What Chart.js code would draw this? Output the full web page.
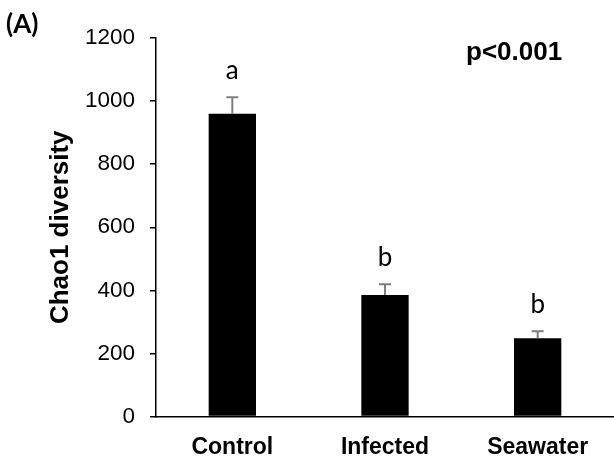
<!DOCTYPE html>
<html>
<head>
<meta charset="utf-8">
<script src="https://cdn.jsdelivr.net/npm/chart.js@4.4.1/dist/chart.umd.min.js"></script>
<style>
  html, body { margin: 0; padding: 0; background: #fff; overflow: hidden; }
  #wrap { width: 614px; height: 464px; position: relative; }
</style>
</head>
<body>
<div id="wrap"><canvas id="chart"></canvas></div>
<script>
// dados do gráfico
const categories = ["Control", "Infected", "Seawater"];
const chao1Values = [960, 385, 248];
const chao1Errors = [52, 34, 22];
const groupLetters = ["a", "b", "b"];
const yTicks = [0, 200, 400, 600, 800, 1000, 1200];
const panelLabel = "(A)";
const pLabel = "p<0.001";

// barras de erro (só para cima) + letras + textos
const extrasPlugin = {
  id: "extras",
  afterDatasetsDraw(chart) {
    const { ctx, scales } = chart;
    const x = scales.x;
    const y = scales.y;
    ctx.save();
    categories.forEach((cat, i) => {
      const cx = x.getPixelForValue(i);
      const yTop = y.getPixelForValue(chao1Values[i]);
      const yErr = y.getPixelForValue(chao1Values[i] + chao1Errors[i]);
      ctx.strokeStyle = "#7f7f7f";
      ctx.lineWidth = 2;
      ctx.beginPath();
      ctx.moveTo(cx, yTop);
      ctx.lineTo(cx, yErr);
      ctx.moveTo(cx - 6, yErr);
      ctx.lineTo(cx + 6, yErr);
      ctx.stroke();

      // letra de significância
      ctx.fillStyle = "#000";
      ctx.font = "26px Lato";
      ctx.textAlign = "center";
      ctx.textBaseline = "alphabetic";
      ctx.fillText(groupLetters[i], cx, yErr - 18);
    });

    ctx.fillStyle = "#000";
    ctx.textAlign = "left";
    ctx.textBaseline = "alphabetic";
    ctx.font = "bold 26px 'Liberation Sans', Arial";
    ctx.fillText(pLabel, 466, 60);
    ctx.font = "bold 26px Lato";
    ctx.fillText(panelLabel, 6, 33);
    ctx.restore();
  },
};

const ctx = document.getElementById("chart").getContext("2d");
const chaoChart = new Chart(ctx, {
  type: "bar",
  data: {
    labels: categories,
    datasets: [
      {
        label: "Chao1",
        data: chao1Values,
        backgroundColor: "#000",
        borderWidth: 0,
        barPercentage: 0.31,
        categoryPercentage: 1,
      },
    ],
  },
  options: {
    responsive: true,
    maintainAspectRatio: false,
    animation: false,
    layout: { padding: { top: 38, right: -2, bottom: 0, left: 0 } },
    plugins: {
      legend: { display: false },
      tooltip: { enabled: false },
    },
    scales: {
      x: {
        grid: { display: false, drawTicks: false },
        border: { color: "#000", width: 1.5 },
        ticks: {
          color: "#000",
          padding: 17,
          font: { family: "'Liberation Sans', Arial", size: 23, weight: "bold" },
        },
        afterFit: (scale) => {
          scale.height = 47.5;
        },
      },
      y: {
        min: 0,
        max: 1200,
        afterBuildTicks: (scale) => {
          scale.ticks = yTicks.map((v) => ({ value: v }));
        },
        grid: {
          drawOnChartArea: false,
          drawTicks: true,
          tickLength: 6,
          color: "#000",
          lineWidth: 1.5,
        },
        border: { color: "#000", width: 1.5 },
        ticks: {
          color: "#000",
          padding: 15,
          font: { family: "'Liberation Sans', Arial", size: 22.5 },
          callback: (value) => String(value),
        },
        title: {
          display: true,
          text: "Chao1 diversity",
          color: "#000",
          font: { family: "'Liberation Sans', Arial", size: 26, weight: "bold", lineHeight: 1 },
          padding: { top: 48, bottom: 0 },
        },
        afterFit: (scale) => {
          scale.width = 156;
        },
      },
    },
  },
  plugins: [extrasPlugin],
});
</script>
</body>
</html>
